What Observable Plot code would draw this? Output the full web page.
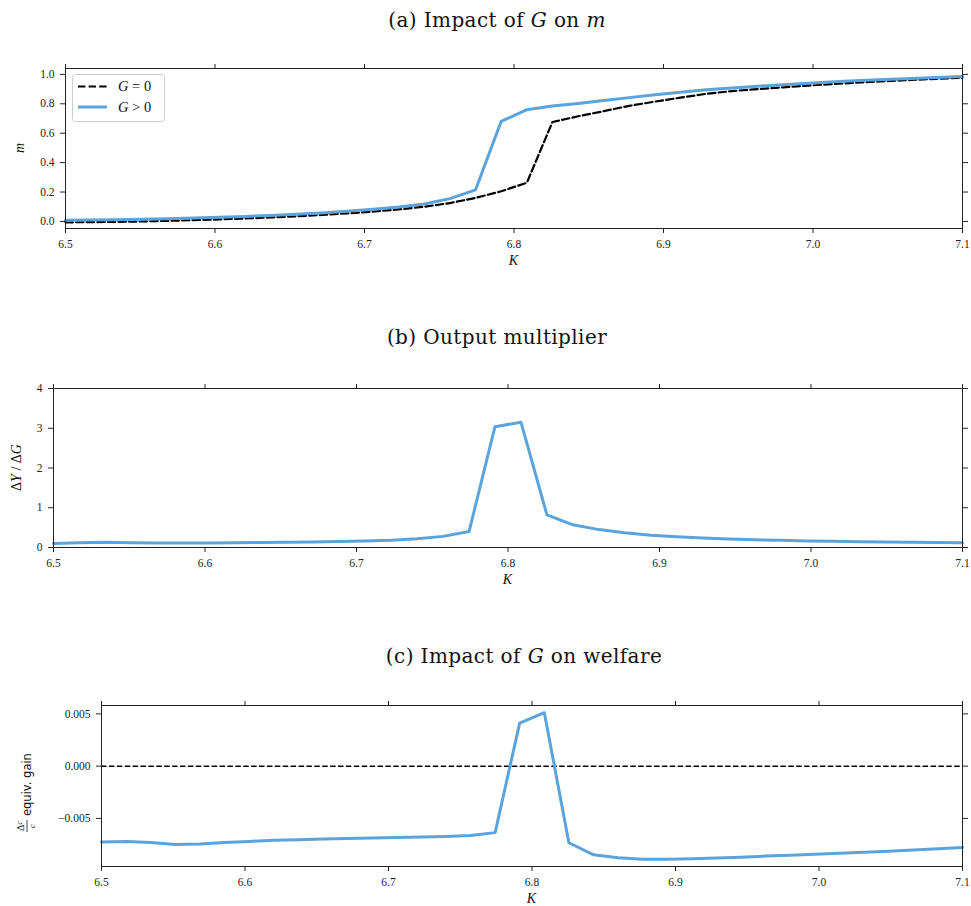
<!DOCTYPE html>
<html><head><meta charset="utf-8">
<script src="https://cdn.jsdelivr.net/npm/d3@7"></script>
<script src="https://cdn.jsdelivr.net/npm/@observablehq/plot@0.6"></script>
<style>
body{margin:0;background:#fff;width:971px;height:906px;position:relative;overflow:hidden;font-family:"Liberation Serif",serif}
.title{position:absolute;font-family:"DejaVu Serif",serif;font-size:20px;letter-spacing:0.4px;white-space:nowrap;transform:translateX(-50%);line-height:1;color:#111}
.panel{position:absolute;left:0}
</style></head><body>
<script>
// K grid
const K = [6.5, 6.5171, 6.5343, 6.5514, 6.5686, 6.5857, 6.6029, 6.6200, 6.6371, 6.6543,
  6.6714, 6.6886, 6.7057, 6.7229, 6.7400, 6.7571, 6.7743, 6.7914, 6.8086, 6.8257,
  6.8429, 6.8600, 6.8771, 6.8943, 6.9114, 6.9286, 6.9457, 6.9629, 6.9800, 6.9971,
  7.0143, 7.0314, 7.0486, 7.0657, 7.0829, 7.1000];
// (a) m, G = 0
const mG0 = [-0.006, -0.005, -0.003, 0.000, 0.004, 0.009, 0.014, 0.020, 0.027, 0.035,
  0.044, 0.055, 0.067, 0.082, 0.100, 0.125, 0.160, 0.205, 0.263, 0.676,
  0.715, 0.750, 0.786, 0.815, 0.842, 0.868, 0.886, 0.900, 0.912, 0.924,
  0.935, 0.945, 0.954, 0.962, 0.970, 0.977];
// (a) m, G > 0
const mGpos = [0.008, 0.010, 0.012, 0.015, 0.019, 0.023, 0.028, 0.034, 0.041, 0.049,
  0.058, 0.070, 0.083, 0.098, 0.118, 0.155, 0.215, 0.680, 0.760, 0.785,
  0.802, 0.822, 0.842, 0.862, 0.879, 0.895, 0.908, 0.920, 0.930, 0.940,
  0.950, 0.958, 0.965, 0.972, 0.978, 0.985];
// (b) output multiplier dY/dG
const multiplier = [0.10, 0.12, 0.13, 0.12, 0.115, 0.115, 0.115, 0.12, 0.125, 0.13,
  0.14, 0.15, 0.165, 0.185, 0.22, 0.28, 0.40, 3.04, 3.15, 0.82,
  0.57, 0.45, 0.37, 0.31, 0.27, 0.24, 0.215, 0.195, 0.18, 0.165,
  0.155, 0.145, 0.14, 0.13, 0.125, 0.12];
// (c) welfare: consumption-equivalent gain
const welfare = [-0.00725, -0.0072, -0.0073, -0.0075, -0.00745, -0.0073, -0.0072, -0.0071, -0.00703, -0.00697,
  -0.00692, -0.00688, -0.00683, -0.00678, -0.00672, -0.00663, -0.00636, 0.00412, 0.00511, -0.00733,
  -0.00848, -0.00877, -0.0089, -0.0089, -0.00885, -0.00878, -0.00871, -0.0086, -0.00852, -0.00843,
  -0.00834, -0.00824, -0.00814, -0.00803, -0.00791, -0.00778];
const xTicks = [6.5, 6.6, 6.7, 6.8, 6.9, 7.0, 7.1];
const yTicksA = [0, 0.2, 0.4, 0.6, 0.8, 1.0];
const yTicksB = [0, 1, 2, 3, 4];
const yTicksC = [-0.005, 0, 0.005];
const titles = ["(a) Impact of <i>G</i> on <i>m</i>", "(b) Output multiplier", "(c) Impact of <i>G</i> on welfare"];

const BLUE = "#5ba3dc";
const W = 971, MR = 9;
const rowsA0 = K.map((k, i) => ({K: k, v: mG0[i]}));
const rowsA1 = K.map((k, i) => ({K: k, v: mGpos[i]}));
const rowsB = K.map((k, i) => ({K: k, v: multiplier[i]}));
const rowsC = K.map((k, i) => ({K: k, v: welfare[i]}));

function panel({top, height, ml, mt, mb, yDomain, yTicks, yFmt, marks, title, titleTop, titleX}) {
  const svg = Plot.plot({
    width: W, height, marginLeft: ml, marginRight: MR, marginTop: mt, marginBottom: mb,
    style: {fontFamily: "Liberation Serif, serif", fontSize: "11.5px", color: "#222", background: "white", overflow: "visible"},
    x: {domain: [6.5, 7.1]},
    y: {domain: yDomain},
    marks: [
      ...marks,
      Plot.frame({stroke: "#222", strokeWidth: 1}),
      Plot.axisX(xTicks, {anchor: "bottom", tickSize: 5, tickPadding: 6, tickFormat: d3.format(".1f"), label: null}),
      Plot.axisX(xTicks, {anchor: "top", tickSize: 5, tickFormat: () => "", label: null}),
      Plot.axisY(yTicks, {anchor: "left", tickSize: 5, tickPadding: 6, tickFormat: yFmt, label: null}),
      Plot.axisY(yTicks, {anchor: "right", tickSize: 5, tickFormat: () => "", label: null})
    ]
  });
  svg.classList.add("panel");
  svg.style.top = top + "px";
  document.body.appendChild(svg);
  const t = document.createElement("div");
  t.className = "title";
  t.innerHTML = title;
  t.style.top = titleTop + "px";
  t.style.left = titleX + "px";
  document.body.appendChild(t);
  const s = d3.select(svg);
  // x label
  s.append("text").attr("x", (ml + W - MR) / 2).attr("y", height - mb + 37)
    .attr("text-anchor", "middle").style("font-style", "italic").style("font-size", "14px").attr("fill", "#111").text("K");
  return s;
}

// Panel (a)
const sA = panel({top: 50, height: 225, ml: 65, mt: 18, mb: 47, yDomain: [-0.048, 1.04], yTicks: yTicksA, yFmt: d3.format(".1f"),
  title: titles[0], titleTop: 10, titleX: 497,
  marks: [
    Plot.line(rowsA0, {x: "K", y: "v", stroke: "black", strokeWidth: 2.2, strokeDasharray: "7.4,3.2"}),
    Plot.line(rowsA1, {x: "K", y: "v", stroke: BLUE, strokeWidth: 3})
  ]});
sA.append("text").attr("transform", "translate(20,98) rotate(-90)").attr("dy", "0.3em").attr("text-anchor", "middle")
  .style("font-style", "italic").style("font-size", "14px").attr("fill", "#111").text("m");
// legend
const lg = sA.append("g");
lg.append("rect").attr("x", 72.5).attr("y", 24.5).attr("width", 92).attr("height", 47).attr("rx", 3)
  .attr("fill", "white").attr("fill-opacity", 0.8).attr("stroke", "#ccc");
lg.append("line").attr("x1", 78).attr("x2", 107).attr("y1", 36.5).attr("y2", 36.5)
  .attr("stroke", "black").attr("stroke-width", 2.2).attr("stroke-dasharray", "7.4,3.2");
lg.append("line").attr("x1", 78).attr("x2", 107).attr("y1", 57).attr("y2", 57)
  .attr("stroke", BLUE).attr("stroke-width", 3);
const l1 = lg.append("text").attr("x", 118).attr("y", 41).attr("text-anchor", "start").style("font-size", "14.5px").attr("fill", "#111");
l1.append("tspan").style("font-style", "italic").text("G");
l1.append("tspan").text(" = 0");
const l2 = lg.append("text").attr("x", 118).attr("y", 61.5).attr("text-anchor", "start").style("font-size", "14.5px").attr("fill", "#111");
l2.append("tspan").style("font-style", "italic").text("G");
l2.append("tspan").text(" > 0");

// Panel (b)
const sB = panel({top: 370, height: 225, ml: 53, mt: 18, mb: 48, yDomain: [0, 4], yTicks: yTicksB, yFmt: d3.format("d"),
  title: titles[1], titleTop: 327, titleX: 497,
  marks: [Plot.line(rowsB, {x: "K", y: "v", stroke: BLUE, strokeWidth: 3})]});
sB.append("text").attr("transform", "translate(17,97.5) rotate(-90)").attr("dy", "0.3em").attr("text-anchor", "middle")
  .style("font-size", "14px").attr("fill", "#111").html('Δ<tspan font-style="italic">Y</tspan> / Δ<tspan font-style="italic">G</tspan>');

// Panel (c)
const sC = panel({top: 687, height: 225, ml: 101, mt: 18, mb: 46, yDomain: [-0.0096, 0.0058], yTicks: yTicksC, yFmt: d3.format(".3f"),
  title: titles[2], titleTop: 646, titleX: 524,
  marks: [
    Plot.ruleY([0], {stroke: "black", strokeWidth: 1.5, strokeDasharray: "5.5,2.4"}),
    Plot.line(rowsC, {x: "K", y: "v", stroke: BLUE, strokeWidth: 3})
  ]});
const gl = sC.append("g").attr("transform", "translate(27,98) rotate(-90)").attr("fill", "#111");
gl.append("text").attr("x", -41).attr("y", -3).attr("text-anchor", "middle").style("font-size", "10px").html('Δ<tspan font-style="italic" font-size="7.5px" dy="-2">c</tspan>');
gl.append("line").attr("x1", -47).attr("x2", -35).attr("y1", 0).attr("y2", 0).attr("stroke", "#111").attr("stroke-width", 0.8);
gl.append("text").attr("x", -41).attr("y", 7.5).attr("text-anchor", "middle").style("font-size", "8.5px").style("font-style", "italic").text("c");
gl.append("text").attr("x", -31).attr("y", 4).attr("text-anchor", "start")
  .style("font-family", "DejaVu Sans, sans-serif").style("font-size", "11.5px").text("equiv. gain");
</script>
</body></html>
